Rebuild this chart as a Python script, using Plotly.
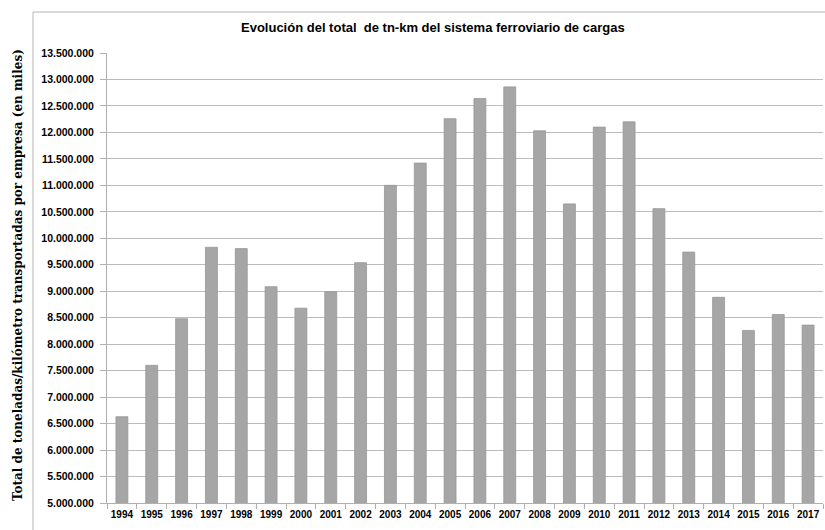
import plotly.graph_objects as go

years = [str(y) for y in range(1994, 2018)]
tn_km = [6630000, 7600000, 8480000, 9830000, 9805000, 9086000, 8680000, 8990000,
         9540000, 11000000, 11420000, 12260000, 12640000, 12860000, 12030000, 10650000,
         12100000, 12200000, 10560000, 9740000, 8885000, 8260000, 8560000, 8360000]
y_ticks = list(range(5000000, 13500001, 500000))

title_text = "Evolución del total  de tn-km del sistema ferroviario de cargas"
y_title = "Total de toneladas/kilómetro transportadas por empresa (en miles)"

W, H = 825, 530
L, R, T, B = 107, 2, 53, 27
pw, ph = W - L - R, H - T - B

def px(x):
    return (x - L) / pw

def py(y):
    return (H - B - y) / ph

fig = go.Figure(go.Bar(
    x=years, y=tn_km,
    marker=dict(color="#a6a6a6", line=dict(color="#979797", width=0.8)),
))

fig.update_layout(
    width=W, height=H,
    margin=dict(l=L, r=R, t=T, b=B, autoexpand=False),
    paper_bgcolor="white", plot_bgcolor="white",
    separators=",.",
    bargap=0.6,
    showlegend=False,
    font=dict(family="Liberation Sans, Arial, sans-serif", color="#000000"),
)
fig.update_yaxes(
    range=[5000000, 13500000],
    tickvals=y_ticks, tickformat=",.0f",
    tickfont=dict(size=10.5, weight="bold", family="Liberation Sans, Arial"),
    showgrid=True, gridcolor="#bcbcbc", gridwidth=1,
    showline=True, linecolor="#b0b0b0", linewidth=1,
    ticks="outside", ticklen=6, tickcolor="#b0b0b0", ticklabelstandoff=4,
    zeroline=False, fixedrange=True, automargin=False,
)
fig.update_xaxes(
    type="category", tickangle=0,
    tickfont=dict(size=10, weight="bold", family="Liberation Sans, Arial"),
    showline=True, linecolor="#b0b0b0", linewidth=1,
    ticks="outside", tickson="boundaries", ticklen=5, tickcolor="#b0b0b0",
    ticklabelstandoff=2,
    showgrid=False, fixedrange=True, automargin=False,
)

fig.add_annotation(
    x=px(433), y=py(27), xref="paper", yref="paper",
    text=title_text, showarrow=False, xanchor="center", yanchor="middle",
    font=dict(size=13, weight="bold", family="Liberation Sans, Arial"),
)
fig.add_annotation(
    x=px(18), y=py(275), xref="paper", yref="paper",
    text=y_title, showarrow=False, textangle=-90, xanchor="center", yanchor="middle",
    font=dict(size=12, weight="bold", family="DejaVu Serif, Liberation Serif, serif"),
)
fig.add_shape(
    type="rect", xref="paper", yref="paper",
    x0=px(33), x1=px(826), y0=py(545), y1=py(12),
    line=dict(color="#b5b5b5", width=1), fillcolor="rgba(0,0,0,0)", layer="below",
)

fig.write_html(
    "out.html",
    config={"displayModeBar": False},
    post_script="document.body.style.margin='0px';document.body.style.overflow='hidden';",
)
